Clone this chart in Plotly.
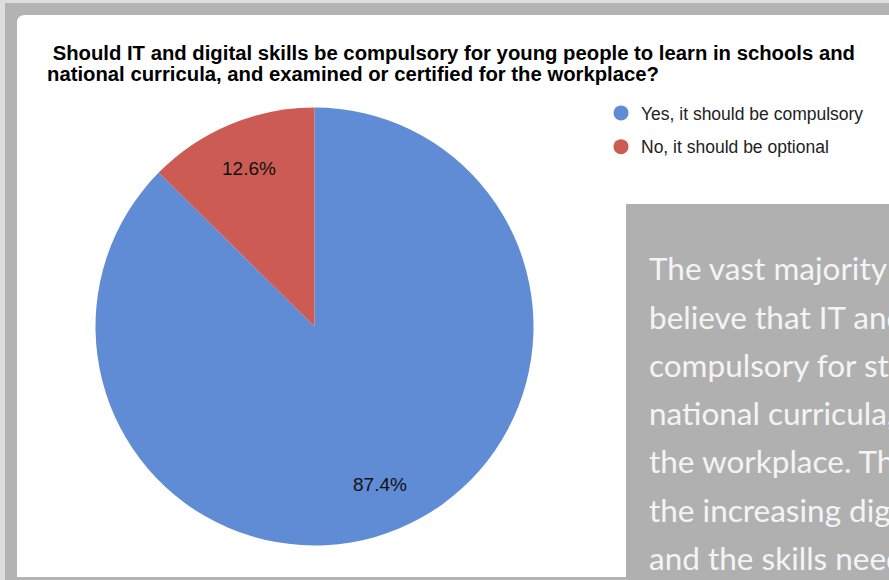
import math
import plotly.graph_objects as go

# ---- data ----
labels = ["Yes, it should be compulsory", "No, it should be optional"]
values = [87.4, 12.6]
colors = ["#5f8cd5", "#cc5c53"]
title_lines = [
    "\u00a0Should IT and digital skills be compulsory for young people to learn in schools and",
    "national curricula, and examined or certified for the workplace?",
]
note_lines = [
    "The vast majority (87.4%)",
    "believe that IT and digital",
    "compulsory for students",
    "national curricula, and",
    "the workplace. This",
    "the increasing digitisation",
    "and the skills needed",
]

W, H = 889, 580


def px(x):
    return x / W


def py(y):
    return 1 - y / H


fig = go.Figure()

# pie
cx, cy, r = 314.5, 326.5, 219
fig.add_trace(go.Pie(
    labels=labels, values=values, sort=False, direction="clockwise", rotation=0,
    marker=dict(colors=colors, line=dict(width=0)),
    textinfo="none",
    showlegend=False, hoverinfo="label+percent",
    domain=dict(x=[px(cx - r), px(cx + r)], y=[py(cy + r), py(cy - r)]),
))

# legend entries with circle markers
for i, (lab, col) in enumerate(zip(labels, colors)):
    fig.add_trace(go.Scatter(
        x=[None], y=[None], mode="markers", name=lab, legendgroup=f"g{i}",
        marker=dict(symbol="circle", size=15, color=col),
    ))

shapes = [
    # outer gray border
    dict(type="rect", xref="paper", yref="paper", x0=px(5), x1=px(W + 10),
         y0=py(H + 10), y1=py(3), fillcolor="#b3b3b3", line=dict(width=0), layer="below"),
    # white card with rounded top-left corner
    dict(type="path", xref="paper", yref="paper",
         path=(f"M {px(17)} {py(577)} L {px(17)} {py(23)} Q {px(17)} {py(15)} {px(25)} {py(15)} "
               f"L {px(W + 10)} {py(15)} L {px(W + 10)} {py(577)} Z"),
         fillcolor="#ffffff", line=dict(width=0), layer="below"),
    # gray note box
    dict(type="rect", xref="paper", yref="paper", x0=px(626), x1=px(W + 10),
         y0=py(H + 10), y1=py(204), fillcolor="#b0b0b0", line=dict(width=0), layer="above"),
]

annotations = []
# slice percentage labels, placed along each slice's middle angle
total = sum(values)
cum = 0.0
for v in values:
    mid = (cum + v / 2) / total * 2 * math.pi
    cum += v
    lx = cx + 0.78 * r * math.sin(mid)
    ly = cy - 0.78 * r * math.cos(mid)
    annotations.append(dict(
        text=f"{v / total * 100:.1f}%", xref="paper", yref="paper",
        x=px(lx), y=py(ly), xanchor="center", yanchor="middle", showarrow=False,
        font=dict(size=19, color="#111111", family="Liberation Sans, Arial"),
    ))
# title
for t, y in zip(title_lines, [53, 74]):
    annotations.append(dict(
        text=f"<b>{t}</b>", xref="paper", yref="paper", x=px(45), y=py(y),
        xanchor="left", yanchor="middle", showarrow=False,
        font=dict(size=20.3, color="#000000", family="Liberation Sans, Arial"),
    ))
# note text
for t, y in zip(note_lines, [268, 317, 365, 413, 461, 510, 558]):
    annotations.append(dict(
        text=t, xref="paper", yref="paper", x=px(647), y=py(y),
        xanchor="left", yanchor="middle", showarrow=False,
        font=dict(size=31.5, color="#f4f4f4", family="Lato, Open Sans"),
    ))

fig.update_layout(
    width=W, height=H, margin=dict(l=0, r=0, t=0, b=0),
    paper_bgcolor="#dddddd", plot_bgcolor="rgba(0,0,0,0)",
    xaxis=dict(visible=False), yaxis=dict(visible=False),
    shapes=shapes, annotations=annotations,
    showlegend=True,
    legend=dict(x=px(601), y=py(95), xanchor="left", yanchor="top",
                traceorder="grouped", tracegroupgap=8,
                bgcolor="rgba(0,0,0,0)",
                font=dict(size=17.5, color="#222222", family="Liberation Sans, Arial")),
)

fig.write_html("out.html")
